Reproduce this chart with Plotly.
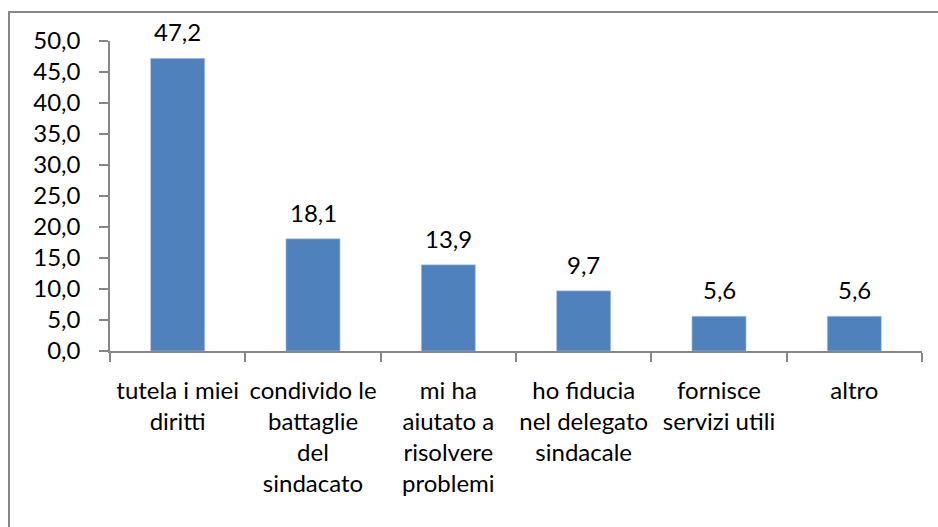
import plotly.graph_objects as go

categories = [
    "tutela i miei<br>diritti",
    "condivido le<br>battaglie<br>del<br>sindacato",
    "mi ha<br>aiutato a<br>risolvere<br>problemi",
    "ho fiducia<br>nel delegato<br>sindacale",
    "fornisce<br>servizi utili",
    "altro",
]
values = [47.2, 18.1, 13.9, 9.7, 5.6, 5.6]
y_ticks = [0, 5, 10, 15, 20, 25, 30, 35, 40, 45, 50]

W, H = 938, 527
L, R, T, B = 110, 16, 41, 176
pw, ph = W - L - R, H - T - B

axis_grey = "#868686"
font_family = "Lato, 'Open Sans', sans-serif"
fs = 24

fig = go.Figure(
    go.Bar(
        x=categories,
        y=values,
        marker=dict(color="#4F81BD", line=dict(color="#B9CDE5", width=0.6)),
        cliponaxis=False,
    )
)

# value labels above each bar
for cat, val in zip(categories, values):
    fig.add_annotation(
        x=cat,
        y=val,
        text=f"{val:.1f}".replace(".", ","),
        showarrow=False,
        yanchor="bottom",
        yshift=10,
        font=dict(size=fs, family=font_family, color="#000000"),
    )

fig.update_layout(
    width=W,
    height=H,
    margin=dict(l=L, r=R, t=T, b=B),
    paper_bgcolor="white",
    plot_bgcolor="white",
    separators=",.",
    bargap=0.6,
    showlegend=False,
    font=dict(family=font_family, size=fs, color="#000000"),
    shapes=[
        # chart frame
        dict(
            type="rect",
            xref="paper",
            yref="paper",
            x0=(9 - L) / pw,
            x1=1.2,
            y0=-1.0,
            y1=(ph + T - 12) / ph,
            line=dict(color=axis_grey, width=2),
            fillcolor="rgba(0,0,0,0)",
            layer="below",
        )
    ],
)

fig.update_yaxes(
    range=[0, 50],
    tickvals=y_ticks,
    tickformat=".1f",
    showgrid=False,
    zeroline=False,
    showline=True,
    linecolor=axis_grey,
    linewidth=1.5,
    ticks="outside",
    ticklen=9,
    tickcolor=axis_grey,
    tickwidth=1.5,
    ticklabelstandoff=14,
    tickfont=dict(size=fs, family=font_family, color="#000000"),
)

fig.update_xaxes(
    showgrid=False,
    showline=True,
    linecolor=axis_grey,
    linewidth=1.5,
    ticks="outside",
    tickson="boundaries",
    ticklen=9,
    tickcolor=axis_grey,
    tickwidth=1.5,
    ticklabelstandoff=17,
    tickangle=0,
    tickfont=dict(size=fs, family=font_family, color="#000000"),
)

fig.write_html("out.html")
